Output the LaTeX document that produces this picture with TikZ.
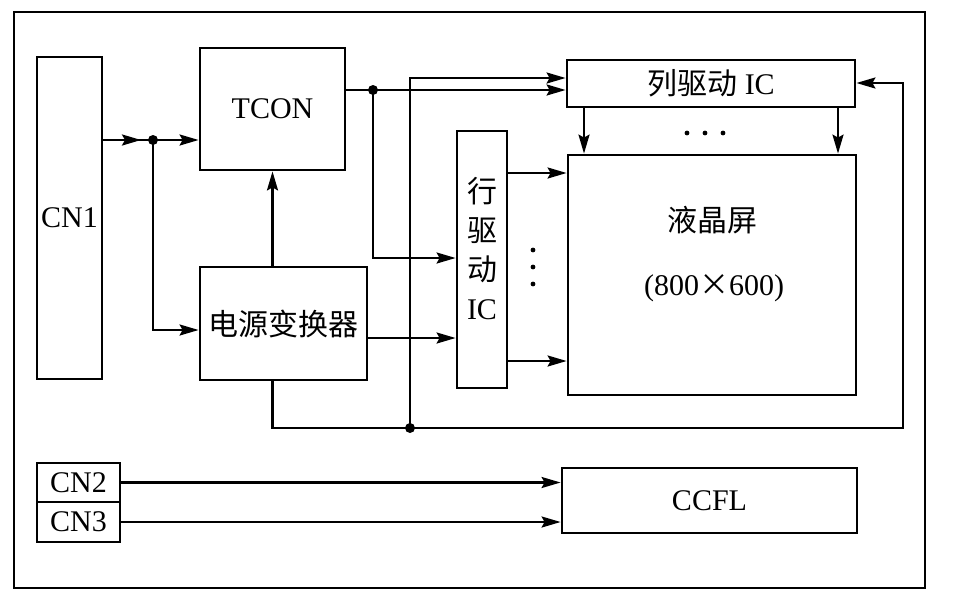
\documentclass[tikz,border=0pt]{standalone}
\usepackage{fontspec}
\setmainfont{Liberation Serif}
\newfontfamily\cjk{Noto Sans CJK SC}
\usetikzlibrary{arrows.meta}
\begin{document}
\begin{tikzpicture}[x=1pt,y=-1pt, line width=2.4pt,
  box/.style={draw, line width=2.8pt, inner sep=0pt, font=\fontsize{30}{36}\selectfont},
  lbl/.style={inner sep=0pt, font=\fontsize{30}{36}\selectfont},
  arr/.style={line width=2.4pt, -{Stealth[length=19pt,width=11pt,inset=3pt]}}]
\useasboundingbox (0,0) rectangle (956,606);
\draw[line width=2.8pt] (14,12) rectangle (925,588);
% blocks
\node[box, minimum width=65pt, minimum height=322pt] (cn1) at (69.5,218) {CN1};
\node[box, minimum width=145pt, minimum height=122pt] (tcon) at (272.5,109) {TCON};
\node[box, minimum width=167pt, minimum height=113pt] (pwr) at (283.5,323.5) {\cjk 电源变换器};
\node[box, minimum width=50pt, minimum height=257pt] (row) at (482,259.5) {};
\node[lbl, align=center, font=\fontsize{30}{39}\selectfont] (rowt) at (482,249) {{\cjk 行}\\{\cjk 驱}\\{\cjk 动}\\IC};
\node[box, minimum width=288pt, minimum height=47pt] (col) at (711,83.5) {{\cjk 列驱动} IC};
\node[box, minimum width=288pt, minimum height=240pt] (lcd) at (712,275) {};
\node[lbl] (lcdt) at (712,220) {\cjk 液晶屏};
\node[lbl] (lcds) at (714,288) {(800{\cjk ×}600)};
\node[box, minimum width=83pt, minimum height=39pt] (cn2) at (78.5,482.5) {CN2};
\node[box, minimum width=83pt, minimum height=40pt] (cn3) at (78.5,522) {CN3};
\node[box, minimum width=295pt, minimum height=65pt] (ccfl) at (709.5,500.5) {CCFL};
% ellipsis dots
\foreach \xx in {687,705,723} \fill (\xx,133) circle (2.4pt);
\foreach \yy in {250,267,284} \fill (533,\yy) circle (2.4pt);
% junction coordinates
\coordinate (j1) at (153,140);
\coordinate (m1) at (141,140);
\coordinate (j1b) at (153,330);
\coordinate (j2) at (373,90);
\coordinate (j2b) at (373,258);
\coordinate (p2) at (400,338);
\coordinate (j3) at (410,428);
\coordinate (j3t) at (410,78);
\coordinate (b1) at (903,428);
\coordinate (b2) at (903,83);
\coordinate (c1) at (584,0);
\coordinate (c2) at (838,0);
\coordinate (r1) at (0,173);
\coordinate (r2) at (0,361);
% CN1 -> TCON, power converter
\draw (cn1.east |- j1) -- (j1);
\draw[arr] (cn1.east |- j1) -- (m1);
\draw[arr] (j1) -- (tcon.west |- j1);
\draw[arr] (j1) -- (j1b) -- (pwr.west |- j1b);
\draw[arr] (tcon.south |- pwr.north) -- (tcon.south);
% TCON outputs
\draw (tcon.east |- j2) -- (j2);
\draw[arr] (j2) -- (col.west |- j2);
\draw[arr] (j2) -- (j2b) -- (row.west |- j2b);
% power to row driver
\draw[arr] (pwr.east |- p2) -- (row.west |- p2);
% power bus
\draw (tcon.south |- pwr.south) -- (tcon.south |- j3) -- (j3);
\draw[arr] (j3) -- (b1) -- (b2) -- (col.east |- b2);
\draw[arr] (j3) -- (j3t) -- (col.west |- j3t);
% drivers to LCD
\draw[arr] (col.south -| c1) -- (lcd.north -| c1);
\draw[arr] (col.south -| c2) -- (lcd.north -| c2);
\draw[arr] (row.east |- r1) -- (lcd.west |- r1);
\draw[arr] (row.east |- r2) -- (lcd.west |- r2);
% CN2, CN3 -> CCFL
\draw[arr] (cn2.east) -- (ccfl.west |- cn2.east);
\draw[arr] (cn3.east) -- (ccfl.west |- cn3.east);
% dots
\fill (j1) circle (5pt);
\fill (j2) circle (5pt);
\fill (j3) circle (5pt);
\end{tikzpicture}
\end{document}
